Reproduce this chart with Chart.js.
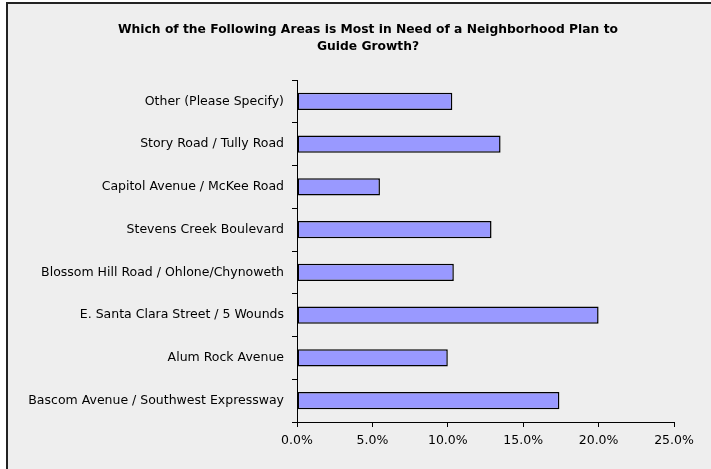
<!DOCTYPE html>
<html>
<head>
<meta charset="utf-8">
<script src="https://cdn.jsdelivr.net/npm/chart.js@4"></script>
<style>
  html, body { margin: 0; padding: 0; background: #fff; }
  #wrap { width: 711px; height: 469px; }
</style>
</head>
<body>
<div id="wrap"><canvas id="myChart" width="711" height="469"></canvas></div>
<script>
// data (percent of responses)
var areas = [
  "Other (Please Specify)",
  "Story Road / Tully Road",
  "Capitol Avenue / McKee Road",
  "Stevens Creek Boulevard",
  "Blossom Hill Road / Ohlone/Chynoweth",
  "E. Santa Clara Street / 5 Wounds",
  "Alum Rock Avenue",
  "Bascom Avenue / Southwest Expressway"
];
var shares = [10.3, 13.5, 5.5, 12.9, 10.4, 20.0, 10.0, 17.4];
var titleLines = [
  "Which of the Following Areas is Most in Need of a Neighborhood Plan to",
  "Guide Growth?"
];

// gray panel with dark frame on the left and top, plus the title
var panel = {
  id: 'panel',
  beforeDraw: function(chart) {
    var c = chart.ctx;
    c.save();
    c.fillStyle = '#ffffff';
    c.fillRect(0, 0, chart.width, chart.height);
    c.fillStyle = '#eeeeee';
    c.fillRect(6, 2, chart.width - 6, chart.height - 2);
    c.fillStyle = '#222222';
    c.fillRect(6, 2, 2, chart.height - 2);
    c.fillRect(6, 2, chart.width - 6, 2);
    // title
    c.fillStyle = '#000';
    c.font = 'bold 12.3px "DejaVu Sans"';
    c.textAlign = 'center';
    c.textBaseline = 'middle';
    for (var i = 0; i < titleLines.length; i++) {
      c.fillText(titleLines[i], 368, 30 + i * 17);
    }
    c.restore();
  }
};

var ctx = document.getElementById('myChart').getContext('2d');
var myChart = new Chart(ctx, {
  type: 'bar',
  data: {
    labels: areas,
    datasets: [{
      data: shares,
      backgroundColor: '#9999ff',
      borderColor: '#000000',
      borderWidth: 1.5,
      borderSkipped: false,
      barPercentage: 0.4,
      categoryPercentage: 1.0
    }]
  },
  options: {
    indexAxis: 'y',
    responsive: false,
    animation: false,
    devicePixelRatio: 1,
    layout: { padding: { left: 14, right: 37, top: 80, bottom: 15 } },
    plugins: {
      legend: { display: false },
      tooltip: { enabled: false },
      title: { display: false }
    },
    scales: {
      x: {
        min: 0,
        max: 25,
        ticks: {
          stepSize: 5,
          color: '#000',
          font: { family: 'DejaVu Sans', size: 12.5 },
          padding: 6,
          callback: function(v) { return v.toFixed(1) + '%'; }
        },
        grid: { drawOnChartArea: false, drawTicks: true, tickLength: 5, color: '#000' },
        border: { color: '#000', width: 1 }
      },
      y: {
        afterFit: function(scale) { scale.width = 283; },
        ticks: {
          color: '#000',
          font: { family: 'DejaVu Sans', size: 12.5 },
          padding: 8
        },
        grid: { drawOnChartArea: false, drawTicks: true, tickLength: 5, color: '#000', offset: true },
        border: { color: '#000', width: 1 }
      }
    }
  },
  plugins: [panel]
});
</script>
</body>
</html>
